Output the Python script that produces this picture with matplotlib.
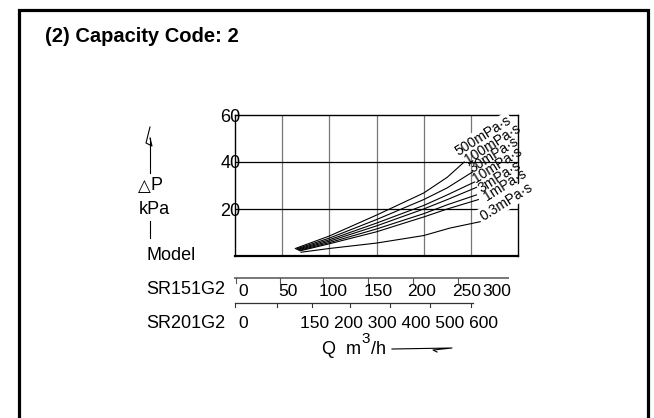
import matplotlib
matplotlib.use("Agg")
import matplotlib.pyplot as plt

plt.rcParams["font.family"] = ["Liberation Sans", "DejaVu Sans"]

# ---- data (Q in SR151G2 m3/h, dP in kPa) ----
VISC_LABELS = ["500mPa·s", "100mPa·s", "30mPa·s", "10mPa·s", "3mPa·s", "1mPa·s", "0.3mPa·s"]
Q_500 = [64, 100, 150, 200, 225, 243]
DP_500 = [3.2, 8.5, 17.4, 26.8, 33.5, 40.0]
Q_100 = [65, 100, 150, 200, 225, 252]
DP_100 = [3.0, 7.6, 15.5, 24.0, 29.0, 35.8]
Q_30 = [66, 100, 150, 200, 225, 254]
DP_30 = [2.8, 6.9, 14.0, 21.5, 26.0, 31.5]
Q_10 = [67, 100, 150, 200, 225, 256]
DP_10 = [2.6, 6.3, 12.8, 20.0, 24.0, 29.2]
Q_3 = [68, 100, 150, 200, 225, 256]
DP_3 = [2.4, 5.7, 11.5, 18.0, 21.8, 26.0]
Q_1 = [69, 100, 150, 200, 225, 258]
DP_1 = [2.2, 5.2, 10.3, 16.6, 20.0, 24.0]
Q_03 = [70, 100, 150, 200, 228, 260]
DP_03 = [1.6, 3.2, 5.5, 8.7, 11.9, 14.6]

Y_TICKS = [20, 40, 60]
X_GRID = [50, 100, 150, 200, 250]
SR151_LABELS = ["0", "50", "100", "150", "200", "250", "300"]
SR201_LABELS = ["0", "150 200 300 400 500 600"]

curves = [(Q_500, DP_500), (Q_100, DP_100), (Q_30, DP_30), (Q_10, DP_10),
          (Q_3, DP_3), (Q_1, DP_1), (Q_03, DP_03)]
# label nudges from the curve end, in pixels (right, up)
label_nudge = [(-6, 6), (-5, 8), (-2, 9), (0, 4), (5, 2), (9, -1), (3, 1)]

W, H = 654, 418
fig = plt.figure(figsize=(W / 100, H / 100), dpi=100)

# overlay in pixel coordinates for the drawn decorations
deco = fig.add_axes([0, 0, 1, 1])
deco.set_xlim(0, W)
deco.set_ylim(H, 0)
deco.axis("off")

# outer frame
deco.plot([19, 19, 648, 648], [H + 5, 10, 10, H + 5], color="black", lw=2.3, solid_joinstyle="miter")

deco.text(45, 36, "(2) Capacity Code: 2", fontsize=14.5, fontweight="bold",
          va="center", ha="left")

# y-axis caption with hand-drawn arrow
deco.plot([150, 150], [138, 173], color="black", lw=0.8)
deco.plot([150, 146, 152, 150], [127, 143, 146, 138], color="black", lw=0.8)
deco.text(138, 186, "△", fontsize=12, family=["DejaVu Sans"], va="center", ha="left")
deco.text(151, 185, "P", fontsize=13, va="center", ha="left")
deco.text(139, 210, "kPa", fontsize=13, va="center", ha="left")
deco.plot([150, 150], [221, 238], color="black", lw=0.8)
deco.text(147, 255, "Model", fontsize=13, va="center", ha="left")

# scale rows under the chart
deco.plot([235, 508], [278, 278], color="#777777", lw=1.4)
deco.text(146, 290, "SR151G2", fontsize=13, va="center", ha="left")
for lab, x in zip(SR151_LABELS, [243, 288, 333, 378, 422, 467, 497]):
    deco.text(x, 291, lab, fontsize=12.5, va="center", ha="center")
for x in [236, 280, 323, 368, 413, 458]:
    deco.plot([x, x], [278, 283], color="#555555", lw=0.8)

deco.plot([235, 473], [303, 303], color="#333333", lw=0.9)
for x in [235, 277, 312, 350, 390, 430, 471]:
    deco.plot([x, x], [303, 307], color="#333333", lw=0.8)
deco.text(146, 323, "SR201G2", fontsize=13, va="center", ha="left")
deco.text(243, 324, SR201_LABELS[0], fontsize=12.5, va="center", ha="center")
deco.text(300, 324, SR201_LABELS[1], fontsize=12.5, va="center", ha="left")

deco.text(322, 349, "Q  m", fontsize=13, va="center", ha="left")
deco.text(361, 339, "3", fontsize=11, va="center", ha="left")
deco.text(371, 349, "/h", fontsize=13, va="center", ha="left")
deco.plot([392, 452, 433, 437], [349, 348, 350, 352], color="black", lw=0.8)

# main chart
ax = fig.add_axes([235 / W, 1 - 256 / H, 283 / W, 141 / H])
ax.set_facecolor("none")
ax.set_xlim(0, 300)
ax.set_ylim(0, 60)
for x in X_GRID:
    ax.axvline(x, color="#777777", lw=0.9, zorder=1)
for y in Y_TICKS[:-1]:
    ax.axhline(y, color="black", lw=0.9, zorder=1)
for s in ax.spines.values():
    s.set_linewidth(1.0)
ax.spines["bottom"].set_linewidth(1.6)
ax.set_xticks([])
ax.set_yticks(Y_TICKS)
ax.set_yticklabels([str(v) for v in Y_TICKS], fontsize=13)
ax.tick_params(axis="y", length=0, pad=-4)

for q, dp in curves:
    ax.plot(q, dp, color="black", lw=0.8, zorder=2)
for i, ((q, dp), lab) in enumerate(zip(curves, VISC_LABELS)):
    dx, dy = label_nudge[i]
    boxed = i in (0, len(curves) - 1)
    ax.annotate(lab, (q[-1], dp[-1]), xytext=(dx * 0.72, dy * 0.72), textcoords="offset points",
                fontsize=10, rotation=32, rotation_mode="anchor", ha="left", va="baseline",
                bbox=dict(boxstyle="square,pad=0.1", fc="white", ec="none") if boxed else None,
                annotation_clip=False, zorder=3 if boxed else 4)

fig.savefig("out.png", dpi=100)
